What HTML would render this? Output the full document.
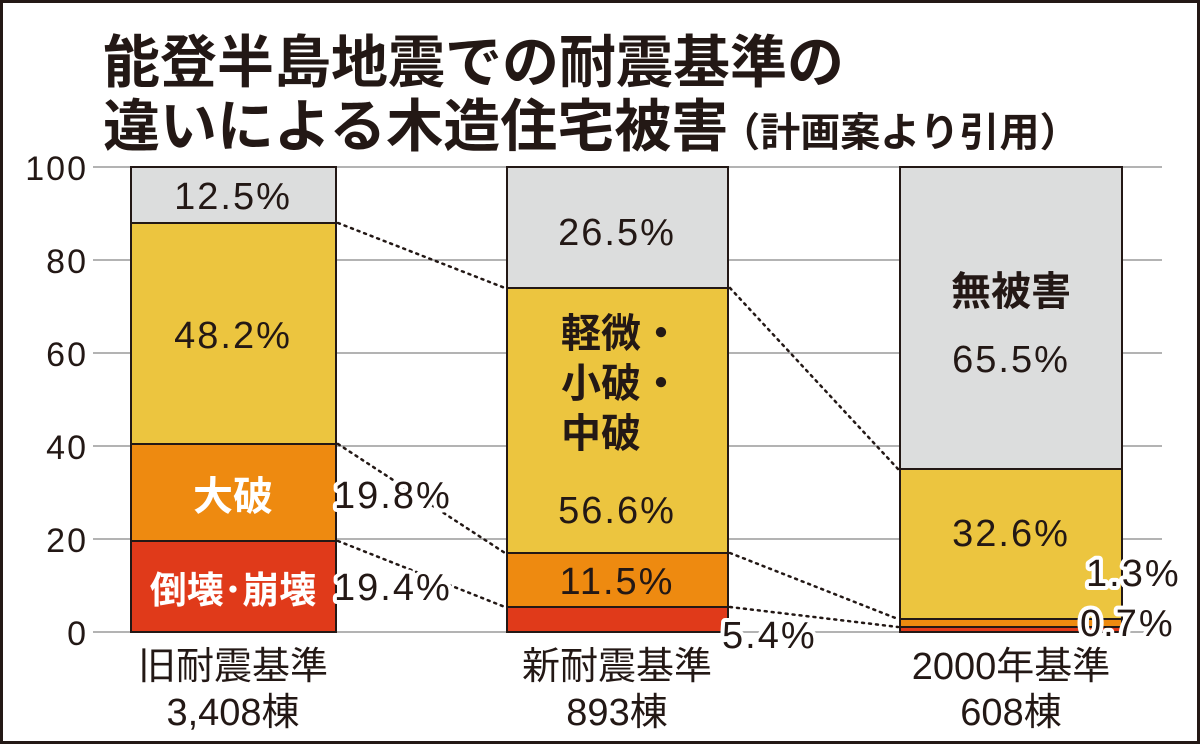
<!DOCTYPE html>
<html><head><meta charset="utf-8"><style>
html,body{margin:0;padding:0;background:#fff}
svg{display:block}
text{font-family:"Liberation Sans","Noto Sans CJK JP",sans-serif;fill:#231815}
.h{stroke:#fff;stroke-width:8;paint-order:stroke;stroke-linejoin:round}
</style></head><body>
<svg width="1200" height="744" viewBox="0 0 1200 744" xmlns="http://www.w3.org/2000/svg">
<rect x="1.5" y="1.5" width="1197" height="741" fill="#fff" stroke="#231815" stroke-width="3"/>
<text x="103" y="82" font-size="57" font-weight="bold">能登半島地震での耐震基準の</text>
<text x="103" y="146" font-size="57" font-weight="bold">違いによる木造住宅被害<tspan font-size="40" dx="-8">（計画案より引用）</tspan></text>
<g stroke="#9a9a9a" stroke-width="1.5">
<line x1="93" y1="167" x2="1162" y2="167"/><line x1="93" y1="260" x2="1162" y2="260"/>
<line x1="93" y1="353" x2="1162" y2="353"/><line x1="93" y1="446" x2="1162" y2="446"/>
<line x1="93" y1="539" x2="1162" y2="539"/><line x1="93" y1="632" x2="1162" y2="632"/>
</g>
<g font-size="34" text-anchor="end" letter-spacing="2">
<text x="88" y="180">100</text><text x="88" y="273">80</text><text x="88" y="366">60</text>
<text x="88" y="459">40</text><text x="88" y="552">20</text><text x="88" y="645">0</text>
</g>
<g stroke="#231815" stroke-width="2">
<rect x="131" y="167" width="205" height="56" fill="#dcdddd"/>
<rect x="131" y="223" width="205" height="221" fill="#ecc53f"/>
<rect x="131" y="444" width="205" height="97" fill="#ee8a10"/>
<rect x="131" y="541" width="205" height="91" fill="#e03a1a"/>
<rect x="507" y="167" width="221" height="121" fill="#dcdddd"/>
<rect x="507" y="288" width="221" height="265" fill="#ecc53f"/>
<rect x="507" y="553" width="221" height="54" fill="#ee8a10"/>
<rect x="507" y="607" width="221" height="25" fill="#e03a1a"/>
<rect x="900" y="167" width="222" height="302" fill="#dcdddd"/>
<rect x="900" y="469" width="222" height="150" fill="#ecc53f"/>
<rect x="900" y="619" width="222" height="8" fill="#ee8a10"/>
<rect x="900" y="627" width="222" height="5" fill="#e03a1a"/>
</g>
<g stroke="#231815" stroke-width="2.5" stroke-dasharray="2 5" stroke-linecap="round">
<line x1="338" y1="223" x2="505" y2="288"/><line x1="730" y1="288" x2="898" y2="469"/>
<line x1="338" y1="444" x2="505" y2="553"/><line x1="730" y1="553" x2="898" y2="619"/>
<line x1="338" y1="541" x2="505" y2="607"/><line x1="730" y1="607" x2="898" y2="627"/>
</g>
<g font-size="38" text-anchor="middle" letter-spacing="2">
<text x="233" y="209">12.5%</text>
<text x="233" y="348">48.2%</text>
<text x="617" y="245">26.5%</text>
<text x="617" y="523">56.6%</text>
<text x="617" y="594">11.5%</text>
<text x="1011" y="372">65.5%</text>
<text x="1011" y="546">32.6%</text>
</g>
<g font-size="40" text-anchor="middle" font-weight="bold">
<text x="233" y="510" style="fill:#fff">大破</text>
<text x="233" y="603" font-size="37" style="fill:#fff">倒壊･崩壊</text>
<text x="621" y="347">軽微・</text>
<text x="621" y="397">小破・</text>
<text x="601" y="447">中破</text>
<text x="1011" y="305">無被害</text>
</g>
<g font-size="38" letter-spacing="2">
<text class="h" x="334" y="508">19.8%</text>
<text class="h" x="334" y="600">19.4%</text>
<text class="h" x="722" y="648">5.4%</text>
<text class="h" x="1086" y="586">1.3%</text>
<text class="h" x="1080" y="636">0.7%</text>
</g>
<g font-size="38" text-anchor="middle">
<text x="233" y="679">旧耐震基準</text><text x="233" y="725">3,408棟</text>
<text x="617" y="679">新耐震基準</text><text x="617" y="725">893棟</text>
<text x="1011" y="679">2000年基準</text><text x="1011" y="725">608棟</text>
</g>
</svg>
</body></html>
